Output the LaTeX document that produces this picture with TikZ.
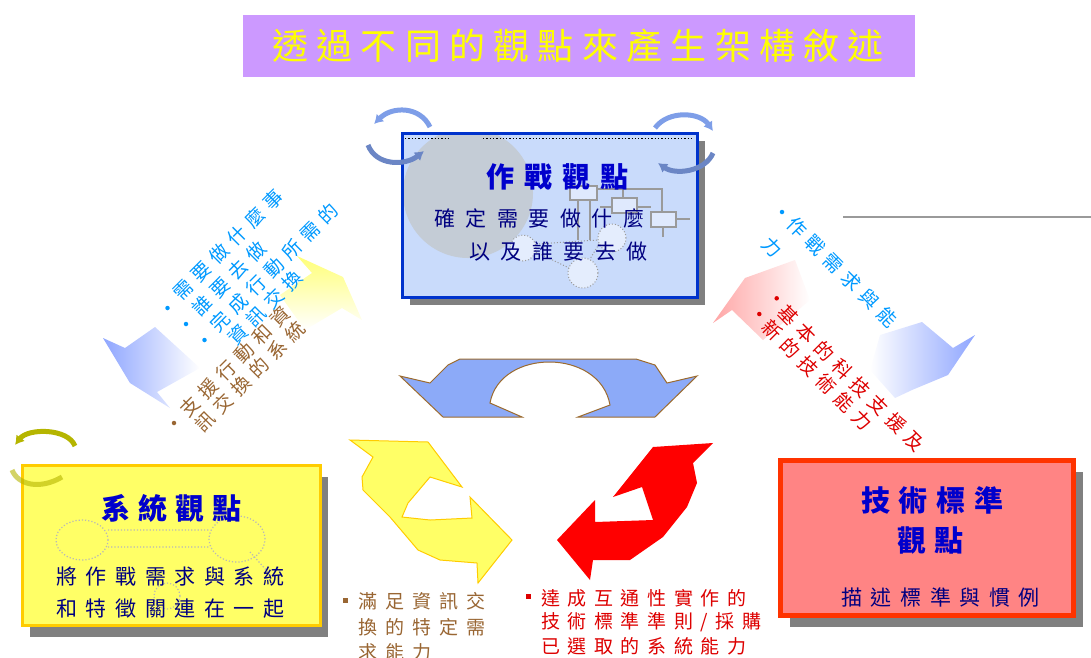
\documentclass[tikz,border=0pt]{standalone}
\usepackage{fontspec}
\usetikzlibrary{shadows,arrows.meta}

\newfontfamily\cjk{Noto Sans CJK TC}
\newcommand\cjkfs[2]{\cjk\fontsize{#1}{#1}\selectfont\addfontfeature{LetterSpace=#2}}
\newcommand\cjkbf[2]{\cjk\bfseries\fontsize{#1}{#1}\selectfont\addfontfeature{LetterSpace=#2}}

\definecolor{band}{HTML}{CC99FF}
\definecolor{bandtext}{HTML}{FFFF00}
\definecolor{opfill}{HTML}{C9DBFB}
\definecolor{opline}{HTML}{0033CC}
\definecolor{opcircle}{HTML}{C4CCD6}
\definecolor{sysfill}{HTML}{FFFF66}
\definecolor{sysline}{HTML}{FFCC00}
\definecolor{tecfill}{HTML}{FF8484}
\definecolor{tecline}{HTML}{FF3300}
\definecolor{headblue}{HTML}{0000CC}
\definecolor{bodyblue}{HTML}{000080}
\definecolor{noteblue}{HTML}{0099FF}
\definecolor{notebrown}{HTML}{996633}
\definecolor{notered}{HTML}{DD0000}
\definecolor{arcblue}{HTML}{8CAAF8}
\definecolor{arcedge}{HTML}{9C6B2E}
\definecolor{cycyellow}{HTML}{FFFF66}
\definecolor{cycedge}{HTML}{FFCC00}
\definecolor{cycred}{HTML}{FF0000}
\definecolor{fadeblue}{HTML}{8FA6FF}
\definecolor{fadeyellow}{HTML}{FFFF77}
\definecolor{fadepink}{HTML}{FFA6A6}
\definecolor{swirlblue}{HTML}{7E9EE8}
\definecolor{swirlolive}{HTML}{B5B500}
\definecolor{shadowgray}{HTML}{808080}
\definecolor{decor}{HTML}{9A9A9A}

\begin{document}
\begin{tikzpicture}[x=1pt, y=-1pt,
    txt/.style={inner sep=0pt, anchor=west},
    viewbox/.style={rectangle, inner sep=0pt, draw, line width=3pt},
    swirl/.style={line width=5pt, -{Latex[length=9pt, width=11pt]}},
    notedot/.style={circle, inner sep=0pt, minimum size=4.5pt},
    notesq/.style={rectangle, inner sep=0pt, minimum size=5pt}]

\useasboundingbox (0,0) rectangle (1091,657);

% title band
\fill[band] (243,15) rectangle (915,77);
\node[txt, text=bandtext] (title) at (272,46) {\cjkfs{36}{23}透過不同的觀點來產生架構敘述};

\draw[decor, line width=1.5pt] (843,217) -- (1091,217);

% operational view
\node[viewbox, fill=opfill, draw=opline, minimum width=295pt, minimum height=164pt,
      drop shadow={shadow xshift=8pt, shadow yshift=-8pt, fill=shadowgray, opacity=1}] (op) at (549.5,215) {};
\begin{scope}
    \clip (404,135) rectangle (695.5,295.5);
    \fill[opcircle] (468,193) circle (65pt);
\end{scope}
\draw[dotted, line width=1.3pt] (405,138.5) -- (450,138.5) (483,138.5) -- (693,138.5);

% little org chart and dotted bubbles
\draw[decor, line width=1.2pt] (597,189) -- (662,189) -- (662,212) (623,189) -- (623,198)
    (578,200) -- (578,240) (590,200) -- (590,240) (600,207) -- (612,207) (637,207) -- (651,207)
    (676,219) -- (690,219) (663,227) -- (663,237);
\filldraw[fill=opfill!60, draw=decor, line width=1.2pt] (570,186) rectangle (597,200);
\filldraw[fill=opfill!60, draw=decor, line width=1.2pt] (612,198) rectangle (637,213);
\filldraw[fill=opfill!60, draw=decor, line width=1.2pt] (651,212) rectangle (676,227);
\filldraw[fill=opfill!50, draw=decor, dotted, line width=1pt] (523,248) circle (13pt);
\filldraw[fill=opfill!50, draw=decor, dotted, line width=1pt] (612,238) circle (14pt);
\filldraw[fill=opfill!50, draw=decor, dotted, line width=1pt] (583,273) circle (15pt);
\draw[decor, dotted, line width=1pt] (536,252) -- (569,268) (599,244) -- (590,259) (536,244) -- (598,240);

\node[txt, text=headblue] (optitle) at (486,177) {\cjkbf{28}{36}作戰觀點};
\node[txt, text=bodyblue] (opline1) at (434,219) {\cjkfs{21}{50}確定需要做什麼};
\node[txt, text=bodyblue] (opline2) at (469,252) {\cjkfs{21}{50}以及誰要去做};

% systems view
\node[viewbox, fill=sysfill, draw=sysline, minimum width=298pt, minimum height=160pt,
      drop shadow={shadow xshift=8pt, shadow yshift=-12pt, fill=shadowgray, opacity=1}] (sys) at (171,545) {};
\draw[decor!70, dotted, line width=1.2pt] (82,540) ellipse (26pt and 20pt) (237,539) ellipse (28pt and 23pt)
    (108,530) -- (209,530) (108,547) -- (209,547) (250,552) -- (268,572) (167,596) circle (13pt);
\node[txt, text=headblue] (systitle) at (101,508) {\cjkbf{29}{28}系統觀點};
\node[txt, text=bodyblue] (sysline1) at (56,577) {\cjkfs{21}{41}將作戰需求與系統};
\node[txt, text=bodyblue] (sysline2) at (56,609) {\cjkfs{21}{41}和特徵關連在一起};

% technical standards view
\node[viewbox, fill=tecfill, draw=tecline, line width=5pt, minimum width=293pt, minimum height=155pt,
      drop shadow={shadow xshift=10pt, shadow yshift=-12pt, fill=shadowgray, opacity=1}] (tec) at (926.5,537.5) {};
\node[txt, text=headblue] (tectitle1) at (861,500) {\cjkbf{29}{30}技術標準};
\node[txt, text=headblue] (tectitle2) at (897,540) {\cjkbf{29}{30}觀點};
\node[txt, text=bodyblue] (tecline1) at (841,597) {\cjkfs{21}{41}描述標準與慣例};

% small swirls on the corners
\draw[swirl, swirlblue] (430,127) .. controls (420,106) and (392,106) .. (374,124);
\draw[swirl, swirlblue!85!black] (368,145) .. controls (376,166) and (405,166) .. (424,151);
\draw[swirl, swirlblue] (655,128) .. controls (668,110) and (700,112) .. (713,131);
\draw[swirl, swirlblue!85!black] (713,153) .. controls (705,172) and (675,175) .. (658,163);
\draw[swirl, swirlolive] (75,446) .. controls (68,428) and (28,428) .. (15,445);
\draw[line width=5pt, swirlolive, opacity=0.6] (12,470) .. controls (18,485) and (40,490) .. (62,477);

% fading double arrows
\shade[left color=fadeblue, right color=white] (103,338) -- (125,348) -- (155,327) -- (200,368)
    -- (157,392) -- (170,408) -- (130,383) -- cycle;
\shade[top color=fadeyellow, bottom color=white] (297,256) -- (343,277) -- (362,320) -- (342,308)
    -- (305,330) -- (280,295) -- (312,273) -- cycle;
\shade[left color=fadepink, right color=white] (713,323) -- (745,278) -- (795,260) -- (810,300)
    -- (763,340) -- (732,310) -- cycle;
\shade[left color=white, right color=fadeblue] (880,335) -- (922,322) -- (953,348) -- (975,335)
    -- (948,375) -- (912,390) -- (895,398) -- (870,370) -- cycle;

% notes on the left
\node[notedot, fill=noteblue] (lb1) at (167.5,308) {};
\node[notedot, fill=noteblue] (lb2) at (186,324) {};
\node[notedot, fill=noteblue] (lb3) at (204.5,340) {};
\node[txt, rotate=45, text=noteblue] (lnote1) at (176.4,296.3) {\cjkfs{19}{34}需要做什麼事};
\node[txt, rotate=45, text=noteblue] (lnote2) at (194.9,312.3) {\cjkfs{19}{34}誰要去做};
\node[txt, rotate=45, text=noteblue] (lnote3) at (213.4,328.3) {\cjkfs{19}{34}完成行動所需的};
\node[txt, rotate=45, text=noteblue] (lnote4) at (231.6,341.7) {\cjkfs{19}{34}資訊交換};
\node[notedot, fill=notebrown] (lb4) at (174,423) {};
\node[txt, rotate=45, text=notebrown] (lnote5) at (183.3,413.4) {\cjkfs{19}{34}支援行動和資};
\node[txt, rotate=45, text=notebrown] (lnote6) at (198.3,428.4) {\cjkfs{19}{34}訊交換的系統};

% notes on the right
\node[notedot, fill=noteblue] (rb1) at (782,212) {};
\node[txt, rotate=-45, text=noteblue] (rnote1) at (790.3,220.3) {\cjkfs{19}{34}作戰需求與能};
\node[txt, rotate=-45, text=noteblue] (rnote2) at (765,240) {\cjkfs{19}{34}力};
\node[notedot, fill=notered] (rb2) at (776.7,298.3) {};
\node[notedot, fill=notered] (rb3) at (759.3,314) {};
\node[txt, rotate=-45, text=notered] (rnote3) at (781.6,308.3) {\cjkfs{19}{34}基本的科技支援及};
\node[txt, rotate=-45, text=notered] (rnote4) at (765,323.3) {\cjkfs{19}{34}新的技術能力};

% cycle in the middle
\filldraw[fill=arcblue, draw=arcedge, line width=1pt] (400,376) -- (430,383) -- (448,365) -- (460,359)
    -- (636,359) -- (655,365) -- (667,383) -- (697,376) -- (655,417) -- (578,417) -- (610,405)
    .. controls (600,348) and (500,348) .. (490,403) -- (522,417) -- (443,417) -- cycle;
\filldraw[fill=cycyellow, draw=cycedge, line width=1pt] (350,440) -- (428,442) -- (462,487) -- (430,477)
    -- (408,503) -- (402,517) -- (430,520) -- (472,518) -- (470,497) -- (512,540) -- (478,583)
    -- (477,563) -- (440,560) -- (418,550) -- (390,517) -- (363,490) -- (362,477) -- (373,457) -- cycle;
\fill[cycred] (713,443) -- (653,447) -- (613,497) -- (642,487) -- (653,520) -- (595,522) -- (595,500)
    -- (557,540) -- (590,580) -- (593,560) -- (630,560) -- (663,537) -- (687,507) -- (697,483)
    -- (693,463) -- cycle;

% notes under the cycle
\node[notesq, fill=notebrown] (bb1) at (345,600) {};
\node[txt, text=notebrown] (bnote1) at (358,601) {\cjkfs{19}{42}滿足資訊交};
\node[txt, text=notebrown] (bnote2) at (358,627) {\cjkfs{19}{42}換的特定需};
\node[txt, text=notebrown] (bnote3) at (358,652) {\cjkfs{19}{42}求能力};
\node[notesq, fill=notered] (bb2) at (528,596) {};
\node[txt, text=notered] (bnote4) at (541,598) {\cjkfs{19}{40}達成互通性實作的};
\node[txt, text=notered] (bnote5) at (541,622) {\cjkfs{19}{40}技術標準準則/採購};
\node[txt, text=notered] (bnote6) at (541,646) {\cjkfs{19}{40}已選取的系統能力};

\end{tikzpicture}
\end{document}
